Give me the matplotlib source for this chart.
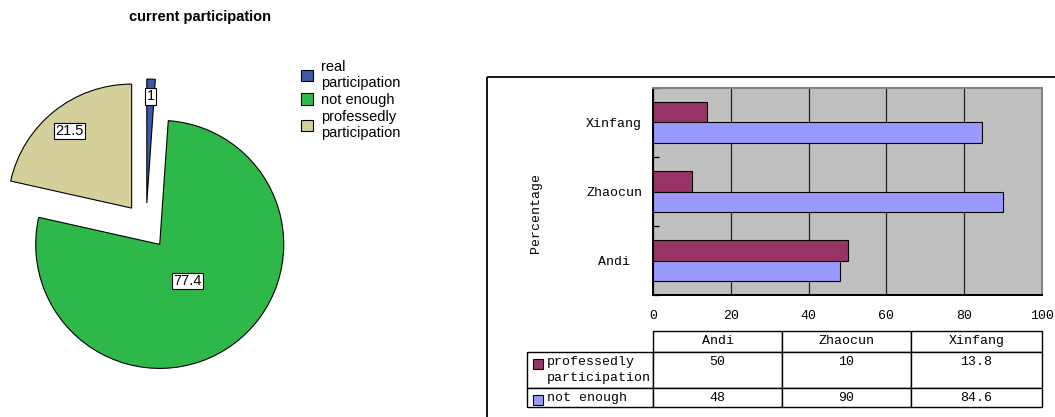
import matplotlib
matplotlib.use('Agg')
import matplotlib.pyplot as plt
import numpy as np
from matplotlib.patches import Rectangle, Patch

# Pie data (current participation)
pie_labels = ['real\nparticipation', 'not enough', 'professedly\nparticipation']
pie_values = [1.1, 77.4, 21.5]
pie_text = ['1', '77.4', '21.5']
pie_colors = ['#3D59A9', '#2FB84A', '#D5CF9B']

# Bar data
villages = ['Andi', 'Zhaocun', 'Xinfang']
professedly = [50, 10, 13.8]
not_enough = [48, 90, 84.6]
bar_series = ['professedly\nparticipation', 'not enough']
bar_colors = ['#993366', '#9999FF']
x_ticks = [0, 20, 40, 60, 80, 100]

W, H = 1055, 417
plt.rcParams['font.family'] = ['Liberation Sans', 'DejaVu Sans']
mono = 'Liberation Mono'

fig = plt.figure(figsize=(W / 100, H / 100), dpi=100)


def fx(px):
    return px / W


def fy(py):
    return 1 - py / H


# ---- pie ----
fig.text(fx(200), fy(17), 'current participation', ha='center', va='center',
         fontsize=10.5, fontweight='bold')

cx, cy, rad = 146, 226, 124
pax = fig.add_axes([0, fy(400), fx(300), 340 / H])
wedges, _ = pax.pie(pie_values, colors=pie_colors, startangle=90, counterclock=False,
                    explode=[0.185] * 3,
                    wedgeprops=dict(edgecolor='black', linewidth=0.8))
pax.set_xlim((0 - cx) / rad, (300 - cx) / rad)
pax.set_ylim((cy - 400) / rad, (cy - 60) / rad)

label_frac = [0.86, 0.37, 0.8]
for w, txt, f in zip(wedges, pie_text, label_frac):
    mid = np.deg2rad((w.theta1 + w.theta2) / 2)
    x = w.center[0] + f * w.r * np.cos(mid)
    y = w.center[1] + f * w.r * np.sin(mid)
    pax.text(x, y, txt, ha='center', va='center', fontsize=10.5,
             bbox=dict(boxstyle='square,pad=0.08', fc='white', ec='black', lw=0.8))

handles = [Patch(facecolor=c, edgecolor='black', lw=0.8) for c in pie_colors]
fig.legend(handles, pie_labels, loc='upper left', bbox_to_anchor=(fx(301), fy(60)),
           frameon=False, fontsize=10.5, borderpad=0, borderaxespad=0,
           handlelength=0.82, handleheight=0.82, handletextpad=0.55,
           labelspacing=0.2)

# ---- bar chart with data table ----
fig.add_artist(Rectangle((fx(487), fy(77)), 0.6, -0.9, transform=fig.transFigure,
                         fill=False, ec='black', lw=1.3, clip_on=False))

ax = fig.add_axes([fx(653), fy(295), fx(1042) - fx(653), (295 - 88) / H])
ax.set_facecolor('#C0C0C0')
y = np.arange(len(villages))
bh = 0.29
ax.barh(y + bh / 2, professedly, height=bh, color=bar_colors[0], edgecolor='black', lw=0.8)
ax.barh(y - bh / 2, not_enough, height=bh, color=bar_colors[1], edgecolor='black', lw=0.8)
ax.set_xlim(0, 100)
ax.set_ylim(-0.5, len(villages) - 0.5)
ax.set_axisbelow(True)
ax.xaxis.grid(True, color='#222222', lw=0.9)

ax.set_xticks(x_ticks)
ax.set_xticklabels([str(t) for t in x_ticks], fontfamily=mono, fontsize=9.5)
ax.tick_params(axis='x', length=0, pad=11)
ax.set_yticks(y)
ax.set_yticklabels(villages, fontfamily=mono, fontsize=9.5, ha='center')
ax.tick_params(axis='y', which='major', length=0, pad=28)
ax.set_yticks(np.arange(-0.5, len(villages)), minor=True)
ax.tick_params(axis='y', which='minor', direction='in', length=4, width=0.9)
ax.set_ylabel('Percentage', fontfamily=mono, fontsize=9.5)
ax.yaxis.set_label_coords((542 - 653) / 389, (295 - 213) / 207)

for s in ['left', 'bottom']:
    ax.spines[s].set_color('black')
    ax.spines[s].set_linewidth(1.4)
for s in ['top', 'right']:
    ax.spines[s].set_color('#808080')
    ax.spines[s].set_linewidth(1.4)

# table below the axis: first column holds the series names
cell_text = [[bar_series[0]] + [f'{v:g}\n' for v in professedly],
             [bar_series[1]] + [f'{v:g}' for v in not_enough]]
tbl = ax.table(cellText=cell_text, colLabels=[''] + villages, cellLoc='center',
               bbox=[(527 - 653) / 389, (295 - 407) / 207, (1042 - 527) / 389, (407 - 331) / 207])
tbl.auto_set_font_size(False)
tbl.set_fontsize(9.5)
heights = {0: 21, 1: 37, 2: 19}
widths = {0: 126, 1: 129, 2: 129, 3: 131}
for (r, c), cell in tbl.get_celld().items():
    cell.set_linewidth(1)
    cell.set_height(heights[r])
    cell.set_width(widths[c])
    cell.get_text().set_fontfamily(mono)
    cell.get_text().set_linespacing(1.4)
    if r == 2:
        cell.get_text().set_y(0)
    if c == 0:
        cell.get_text().set_ha('left')
        cell._loc = 'left'
        cell.PAD = 0.16
        if r == 0:
            cell.visible_edges = 'open'

# colour keys in the row labels
for py, col in zip([364, 400], bar_colors):
    fig.add_artist(Rectangle((fx(533), fy(py + 5)), 10 / W, 10 / H, transform=fig.transFigure,
                             fc=col, ec='black', lw=0.8))

fig.savefig('out.png', dpi=100)
